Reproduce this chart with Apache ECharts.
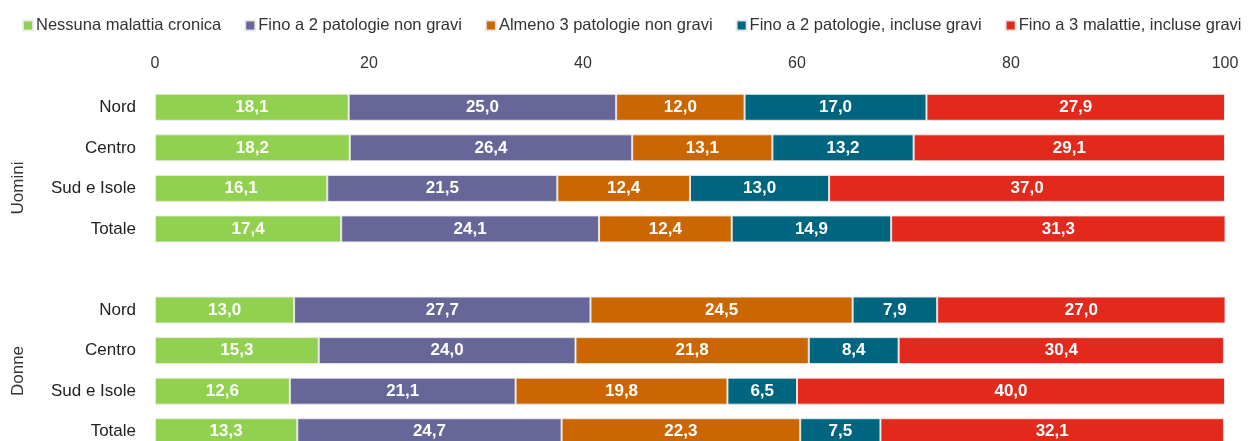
<!DOCTYPE html>
<html lang="it">
<head>
    <meta charset="UTF-8">
    <title>Malattie croniche per ripartizione e sesso</title>
    <script src="https://cdn.jsdelivr.net/npm/echarts@6/dist/echarts.min.js"></script>
    <style>
        html, body { margin: 0; padding: 0; background: #fff; }
    </style>
</head>
<body>
<div id="main" style="width: 1260px;height:441px;"></div>
<script type="text/javascript">
    // categorie (la voce vuota separa Uomini e Donne)
    var categorie = ['Nord', 'Centro', 'Sud e Isole', 'Totale', '', 'Nord', 'Centro', 'Sud e Isole', 'Totale'];
    var tickLabels = ['0', '20', '40', '60', '80', '100'];

    var nomiSerie = [
        'Nessuna malattia cronica',
        'Fino a 2 patologie non gravi',
        'Almeno 3 patologie non gravi',
        'Fino a 2 patologie, incluse gravi',
        'Fino a 3 malattie, incluse gravi'
    ];

    var nessuna      = [18.1, 18.2, 16.1, 17.4, '-', 13.0, 15.3, 12.6, 13.3];
    var fino2NonGr   = [25.0, 26.4, 21.5, 24.1, '-', 27.7, 24.0, 21.1, 24.7];
    var almeno3NonGr = [12.0, 13.1, 12.4, 12.4, '-', 24.5, 21.8, 19.8, 22.3];
    var fino2Gravi   = [17.0, 13.2, 13.0, 14.9, '-', 7.9, 8.4, 6.5, 7.5];
    var fino3Gravi   = [27.9, 29.1, 37.0, 31.3, '-', 27.0, 30.4, 40.0, 32.1];

    var colori = ['#92d050', '#666699', '#cc6600', '#006680', '#e3281c'];
    var font = '"Liberation Sans Narrow", "Arial Narrow", "Liberation Sans", sans-serif';

    var myChart = echarts.init(document.getElementById('main'));

    function serie(nome, dati, colore) {
        return {
            name: nome,
            type: 'bar',
            stack: 'tot',
            barWidth: 27,
            data: dati,
            itemStyle: { color: colore, borderColor: 'rgba(235,235,235,0.9)', borderWidth: 1 },
            label: {
                show: true,
                position: 'inside',
                color: '#fff',
                fontFamily: font,
                fontWeight: 'bold',
                fontSize: 17,
                formatter: function (p) { return p.value.toFixed(1).replace('.', ','); }
            }
        };
    }

    var option = {
        animation: false,
        textStyle: { fontFamily: font },
        legend: {
            left: 17,
            top: 12,
            width: 1243,
            itemWidth: 10,
            itemHeight: 10,
            itemGap: 23,
            icon: 'rect',
            textStyle: { fontFamily: font, fontSize: 16.5, color: '#333', padding: [0, 0, 0, -2] },
            data: nomiSerie
        },
        grid: { left: 155, right: 35, top: 87, height: 365, outerBoundsMode: 'none' },
        xAxis: {
            type: 'value',
            position: 'top',
            min: 0,
            max: 100,
            interval: 20,
            axisLine: { show: false },
            axisTick: { show: false },
            splitLine: { show: false },
            axisLabel: {
                margin: 15,
                fontFamily: font,
                fontSize: 16,
                color: '#333',
                formatter: function (v) { return tickLabels[v / 20]; }
            }
        },
        yAxis: {
            type: 'category',
            inverse: true,
            data: categorie,
            axisLine: { show: false },
            axisTick: { show: false },
            axisLabel: { margin: 19, fontFamily: font, fontSize: 17, color: '#222' }
        },
        graphic: [
            {
                type: 'text', x: 18, y: 188, rotation: Math.PI / 2,
                style: { text: 'Uomini', fontFamily: font, fontSize: 17, fill: '#333', align: 'center', verticalAlign: 'middle' }
            },
            {
                type: 'text', x: 18, y: 371, rotation: Math.PI / 2,
                style: { text: 'Donne', fontFamily: font, fontSize: 17, fill: '#333', align: 'center', verticalAlign: 'middle' }
            }
        ],
        series: [
            serie(nomiSerie[0], nessuna, colori[0]),
            serie(nomiSerie[1], fino2NonGr, colori[1]),
            serie(nomiSerie[2], almeno3NonGr, colori[2]),
            serie(nomiSerie[3], fino2Gravi, colori[3]),
            serie(nomiSerie[4], fino3Gravi, colori[4])
        ]
    };

    myChart.setOption(option);
</script>
</body>
</html>
